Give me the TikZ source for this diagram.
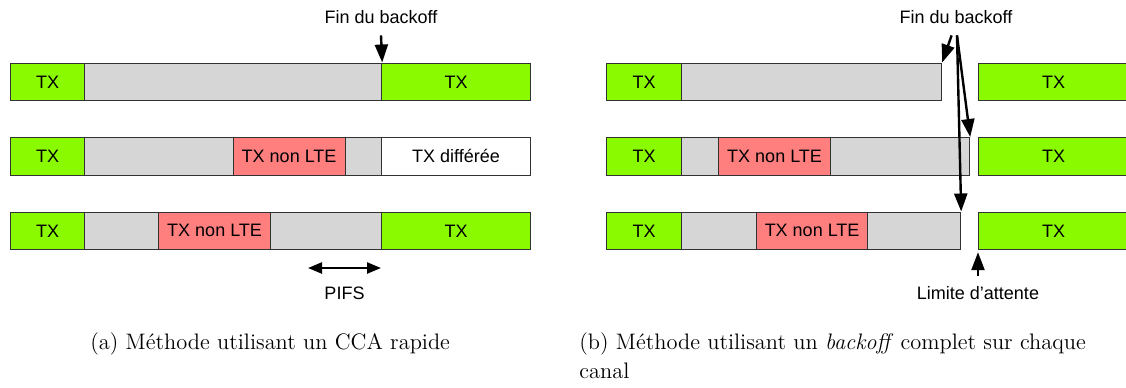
\documentclass[tikz,border=0pt]{standalone}
\usepackage{fontspec}
\newfontfamily\labfont{Liberation Sans}
\usetikzlibrary{arrows.meta,calc}
\definecolor{txgreen}{RGB}{138,250,0}
\definecolor{nonlte}{RGB}{255,127,127}
\definecolor{idle}{RGB}{214,214,214}
\definecolor{edge}{RGB}{50,50,50}

\tikzset{
  slot/.style={draw=edge, line width=0.6pt, inner sep=0pt,
    font=\labfont\fontsize{9}{10}\selectfont,
    minimum height=18.75pt, anchor=north west},
  tx/.style={slot, fill=txgreen},
  busy/.style={slot, fill=nonlte},
  wait/.style={slot, fill=idle},
  deferred/.style={slot, fill=white},
  lbl/.style={font=\labfont\fontsize{9}{10}\selectfont, inner sep=1pt},
  arr/.style={line width=1.2pt, -{Triangle[length=9pt,width=6.5pt]}},
  span/.style={line width=1.2pt,
    {Triangle[length=7pt,width=5.5pt]}-{Triangle[length=7pt,width=5.5pt]}},
  capt/.style={font=\fontsize{11.2}{14}\selectfont, inner sep=0pt, anchor=base west},
}

% one time slot: style, name, left x, right x, top y, text
\newcommand\seg[6]{\node[#1, minimum width={(#4-#3)*0.5pt}] (#2) at (#3,#5) {#6};}

\begin{document}
\begin{tikzpicture}[x=0.5pt, y=-0.5pt]
\useasboundingbox (0,0) rectangle (1126,387);
\clip (0,0) rectangle (1126,387);

% ---- (a) fast CCA ----
\seg{tx}{a1x}{10}{84}{62.5}{TX}
\seg{wait}{a1w}{84}{381}{62.5}{}
\seg{tx}{a1t}{381}{530}{62.5}{TX}

\seg{tx}{a2x}{10}{84}{137}{TX}
\seg{wait}{a2w}{84}{232.5}{137}{}
\seg{busy}{a2n}{232.5}{344.5}{137}{TX non LTE}
\seg{wait}{a2v}{344.5}{381}{137}{}
\seg{deferred}{a2t}{381}{530}{137}{TX différée}

\seg{tx}{a3x}{10}{84}{211.5}{TX}
\seg{wait}{a3w}{84}{158}{211.5}{}
\seg{busy}{a3n}{158}{270}{211.5}{TX non LTE}
\seg{wait}{a3v}{270}{381}{211.5}{}
\seg{tx}{a3t}{381}{530}{211.5}{TX}

\node[lbl] (fin1) at (381,17) {Fin du backoff};
\draw[arr] ([yshift=-4.7pt]fin1.south) -- (a1w.north east);

\coordinate (p0) at (308,268);
\draw[span] (p0) -- (p0 -| a3t.west);
\node[lbl] (pifs) at (344.5,293) {PIFS};

% ---- (b) full backoff on each channel ----
\seg{tx}{b1x}{606}{681}{62.5}{TX}
\seg{wait}{b1w}{681}{941}{62.5}{}
\seg{tx}{b1t}{978}{1128}{62.5}{TX}

\seg{tx}{b2x}{606}{681}{137}{TX}
\seg{wait}{b2w}{681}{718}{137}{}
\seg{busy}{b2n}{718}{830}{137}{TX non LTE}
\seg{wait}{b2v}{830}{969}{137}{}
\seg{tx}{b2t}{978}{1128}{137}{TX}

\seg{tx}{b3x}{606}{681}{211.5}{TX}
\seg{wait}{b3w}{681}{756}{211.5}{}
\seg{busy}{b3n}{756}{867}{211.5}{TX non LTE}
\seg{wait}{b3v}{867}{960}{211.5}{}
\seg{tx}{b3t}{978}{1128}{211.5}{TX}

\node[lbl] (fin2) at (956,17) {Fin du backoff};
\draw[arr] ([xshift=-2.2pt,yshift=-4.7pt]fin2.south) -- (b1w.north east);
\draw[arr] ([xshift=0.5pt,yshift=-4.7pt]fin2.south) -- (b2v.north east);
\draw[arr] ([xshift=0.5pt,yshift=-4.7pt]fin2.south) -- (b3v.north east);

\node[lbl] (lim) at (978,293) {Limite d’attente};
\draw[arr] ([yshift=4pt]lim.north) -- ([yshift=-1pt]b3t.south west);

% ---- captions ----
\node[capt] (capa) at (90,349) {(a) Méthode utilisant un CCA rapide};
\node[capt] (capb) at (579,349) {(b) Méthode utilisant un \emph{backoff} complet sur chaque};
\node[capt] (capc) at (579,378) {canal};
\end{tikzpicture}
\end{document}
